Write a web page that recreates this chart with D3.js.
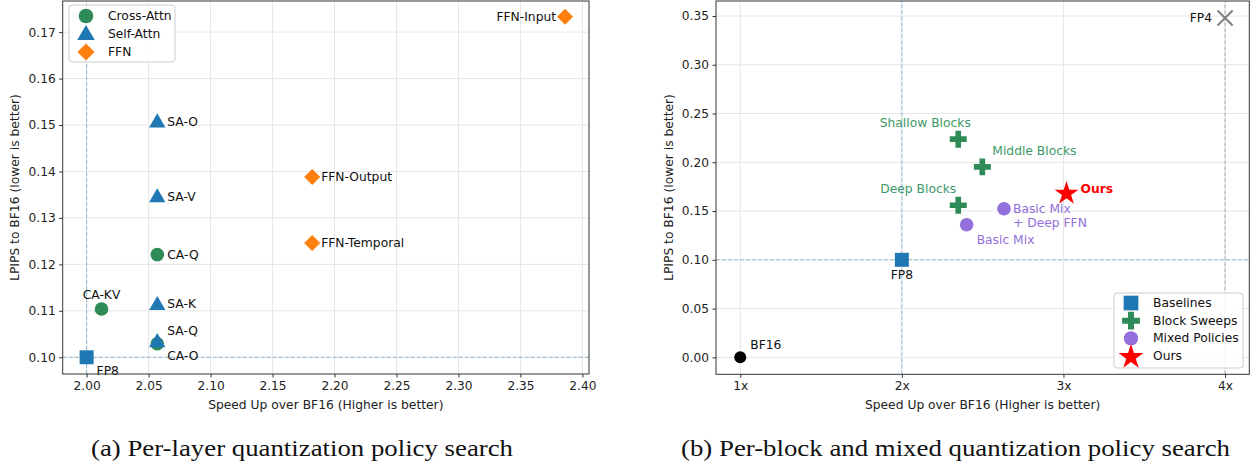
<!DOCTYPE html>
<html><head><meta charset="utf-8">
<script src="https://cdn.jsdelivr.net/npm/d3@7"></script>
<style>body{margin:0;background:#fff}svg{display:block;font-family:"DejaVu Sans",sans-serif}</style>
</head><body>
<svg id="c" width="1257" height="468"></svg>
<script>
// ---------- Data: panel (a) ----------
const layerNames  = ["CA-KV","CA-Q","CA-O","SA-O","SA-V","SA-K","SA-Q","FFN-Input","FFN-Output","FFN-Temporal"];
const layerGroups = ["Cross-Attn","Cross-Attn","Cross-Attn","Self-Attn","Self-Attn","Self-Attn","Self-Attn","FFN","FFN","FFN"];
const layerSpeed  = [2.012, 2.057, 2.057, 2.057, 2.057, 2.057, 2.057, 2.386, 2.182, 2.182];
const layerLpips  = [0.1104, 0.1221, 0.1029, 0.1507, 0.1346, 0.1114, 0.1034, 0.1733, 0.1388, 0.1246];
const fp8Point    = {name:"FP8", speed:2.00, lpips:0.100};
const aXTicks = [2.00,2.05,2.10,2.15,2.20,2.25,2.30,2.35,2.40];
const aYTicks = [0.10,0.11,0.12,0.13,0.14,0.15,0.16,0.17];
const aLegend = ["Cross-Attn","Self-Attn","FFN"];

// ---------- Data: panel (b) ----------
const policyNames  = ["BF16","FP8","FP4","Shallow Blocks","Middle Blocks","Deep Blocks","Basic Mix","Basic Mix\n+ Deep FFN","Ours"];
const policyGroups = ["BF16","Baselines","FP4","Block Sweeps","Block Sweeps","Block Sweeps","Mixed Policies","Mixed Policies","Ours"];
const policySpeed  = [1.0, 2.0, 4.0, 2.349, 2.498, 2.349, 2.401, 2.632, 3.019];
const policyLpips  = [0.0, 0.100, 0.348, 0.2237, 0.1953, 0.156, 0.1359, 0.1523, 0.169];
const bXTicks = [1,2,3,4];
const bXTickLabels = ["1x","2x","3x","4x"];
const bYTicks = [0.00,0.05,0.10,0.15,0.20,0.25,0.30,0.35];
const bLegend = ["Baselines","Block Sweeps","Mixed Policies","Ours"];

const captions = ["(a) Per-layer quantization policy search","(b) Per-block and mixed quantization policy search"];

// ---------- Styles ----------
const colors = {"Cross-Attn":"#2e8b57","Self-Attn":"#1f77b4","FFN":"#ff7f0e",
  "Baselines":"#1f77b4","Block Sweeps":"#2e8b57","Mixed Policies":"#9370db","Ours":"#ff0000","BF16":"#000000","FP4":"#808080"};
const shapes = {"Cross-Attn":"circle","Self-Attn":"triangle","FFN":"diamond",
  "Baselines":"square","Block Sweeps":"plus","Mixed Policies":"circle","Ours":"star","BF16":"circleS","FP4":"x"};

const svg = d3.select("#c");

function marker(g, shape, x, y, color, k=1){
  switch(shape){
    case "circle": g.append("circle").attr("cx",x).attr("cy",y).attr("r",6.8*Math.sqrt(k)).attr("fill",color); break;
    case "circleS": g.append("circle").attr("cx",x).attr("cy",y).attr("r",6).attr("fill",color); break;
    case "triangle": g.append("path").attr("d",d3.symbol(d3.symbolTriangle,115*k)()).attr("transform",`translate(${x},${y+1})`).attr("fill",color); break;
    case "diamond": g.append("path").attr("d",d3.symbol(d3.symbolSquare,128*k)()).attr("transform",`translate(${x},${y}) rotate(45)`).attr("fill",color); break;
    case "square": g.append("path").attr("d",d3.symbol(d3.symbolSquare,196*k)()).attr("transform",`translate(${x},${y})`).attr("fill",color); break;
    case "plus": g.append("path").attr("d",d3.symbol(d3.symbolCross,160*k)()).attr("transform",`translate(${x},${y})`).attr("fill",color); break;
    case "star": g.append("path").attr("d",d3.symbol(d3.symbolStar,175*k)()).attr("transform",`translate(${x},${y+1})`).attr("fill",color); break;
    case "x": g.append("path").attr("d",d3.symbol(d3.symbolX,150*k)()).attr("transform",`translate(${x},${y})`).attr("fill","none").attr("stroke",color).attr("stroke-width",2); break;
  }
}

function frame(x, y, xTicks, yTicks, xFmt, yFmt){
  const g = svg.append("g");
  const [x0,x1] = x.range(), [y0,y1] = y.range();
  g.selectAll(".gx").data(xTicks).join("line").attr("x1",d=>x(d)).attr("x2",d=>x(d)).attr("y1",y0).attr("y2",y1).attr("stroke","#e6e6e6").attr("stroke-width",1);
  g.selectAll(".gy").data(yTicks).join("line").attr("y1",d=>y(d)).attr("y2",d=>y(d)).attr("x1",x0).attr("x2",x1).attr("stroke","#e6e6e6").attr("stroke-width",1);
  const ax = svg.append("g").attr("transform",`translate(0,${y0})`).call(d3.axisBottom(x).tickValues(xTicks).tickFormat(xFmt).tickSize(3.5).tickPadding(3.5));
  const ay = svg.append("g").attr("transform",`translate(${x0},0)`).call(d3.axisLeft(y).tickValues(yTicks).tickFormat(yFmt).tickSize(3.5).tickPadding(3.5));
  [ax,ay].forEach(a=>{a.select(".domain").remove(); a.selectAll("text").attr("font-size",12.2).attr("fill","#222").attr("font-family","DejaVu Sans"); a.selectAll("line").attr("stroke","#333");});
  return g;
}
function border(x,y){
  const [x0,x1] = x.range(), [y0,y1] = y.range();
  svg.append("rect").attr("x",x0).attr("y",y1).attr("width",x1-x0).attr("height",y0-y1).attr("fill","none").attr("stroke","#333").attr("stroke-width",1);
}
function xlabel(y,cx){
  svg.append("text").attr("x",cx).attr("y",y.range()[0]+35).attr("text-anchor","middle").attr("font-size",12.3).attr("fill","#222").text("Speed Up over BF16 (Higher is better)");
}
function ylabel(px, cy){
  svg.append("text").attr("transform",`translate(${px},${cy}) rotate(-90)`).attr("text-anchor","middle").attr("font-size",12.3).attr("fill","#222").text("LPIPS to BF16 (lower is better)");
}
function dashed(g, x1, x2, y1, y2, color, op){
  g.append("line").attr("x1",x1).attr("x2",x2).attr("y1",y1).attr("y2",y2).attr("stroke",color).attr("stroke-opacity",op).attr("stroke-dasharray","4,2");
}

// ================= Panel (a) =================
const xa = d3.scaleLinear().domain([1.9807, 2.4053]).range([62.7, 589]);
const ya = d3.scaleLinear().domain([0.0964, 0.1767]).range([374, 1]);
frame(xa, ya, aXTicks, aYTicks, d3.format(".2f"), d3.format(".2f"));
const ga = svg.append("g");
dashed(ga, xa(fp8Point.speed), xa(fp8Point.speed), ya.range()[0], ya.range()[1], "#1f77b4", 0.45);
dashed(ga, xa.range()[0], xa.range()[1], ya(fp8Point.lpips), ya(fp8Point.lpips), "#1f77b4", 0.45);
const aLabelPos = {"CA-KV":[0,-10,"middle"],"CA-Q":[10,4,"start"],"CA-O":[10,16,"start"],"SA-O":[10,4,"start"],"SA-V":[10,4,"start"],
  "SA-K":[10,4,"start"],"SA-Q":[10,-6,"start"],"FFN-Input":[-9,4,"end"],"FFN-Output":[9,4,"start"],"FFN-Temporal":[9,4,"start"]};
layerNames.forEach((n,i)=>{
  marker(ga, shapes[layerGroups[i]], xa(layerSpeed[i]), ya(layerLpips[i]), colors[layerGroups[i]]);
});
layerNames.forEach((n,i)=>{
  const p = aLabelPos[n];
  ga.append("text").attr("x",xa(layerSpeed[i])+p[0]).attr("y",ya(layerLpips[i])+p[1]).attr("text-anchor",p[2]).attr("font-size",12.3).attr("fill","#111").text(n);
});
marker(ga, "square", xa(fp8Point.speed), ya(fp8Point.lpips), "#1f77b4");
ga.append("text").attr("x",xa(fp8Point.speed)+10).attr("y",ya(fp8Point.lpips)+18).attr("font-size",12.3).attr("fill","#111").text(fp8Point.name);
border(xa, ya);
const la = svg.append("g");
la.append("rect").attr("x",69).attr("y",5).attr("width",106).attr("height",57).attr("rx",3).attr("fill","#fff").attr("fill-opacity",0.85).attr("stroke","#ccc");
aLegend.forEach((k,i)=>{
  const yy = 16 + i*18;
  marker(la, shapes[k], 86, yy, colors[k], 1.15);
  la.append("text").attr("x",108).attr("y",yy+4).attr("font-size",12.3).attr("fill","#111").text(k);
});
xlabel(ya, 325.8);
ylabel(19, 187.5);

// ================= Panel (b) =================
const xb = d3.scaleLinear().domain([0.85, 4.15]).range([716, 1249.3]);
const yb = d3.scaleLinear().domain([-0.0174, 0.3654]).range([374.3, 1]);
frame(xb, yb, bXTicks, bYTicks, (d,i)=>bXTickLabels[i], d3.format(".2f"));
const gb = svg.append("g");
const fp8i = policyNames.indexOf("FP8"), fp4i = policyNames.indexOf("FP4");
dashed(gb, xb(policySpeed[fp8i]), xb(policySpeed[fp8i]), yb.range()[0], yb.range()[1], "#1f77b4", 0.45);
dashed(gb, xb.range()[0], xb.range()[1], yb(policyLpips[fp8i]), yb(policyLpips[fp8i]), "#1f77b4", 0.45);
dashed(gb, xb(policySpeed[fp4i]), xb(policySpeed[fp4i]), yb.range()[0], yb.range()[1], "#808080", 0.6);
const bLabelPos = {"BF16":[10,-8,"start","#111","normal"],"FP8":[0,19,"middle","#111","normal"],"FP4":[-13,4,"end","#111","normal"],
  "Shallow Blocks":[-33,-12,"middle","#3d9a68","normal"],"Middle Blocks":[10,-12,"start","#3d9a68","normal"],"Deep Blocks":[-40,-12,"middle","#3d9a68","normal"],
  "Basic Mix":[10,19,"start","#9370db","normal"],"Basic Mix\n+ Deep FFN":[9,4,"start","#9370db","normal"],"Ours":[14,0,"start","#ff0000","bold"]};
policyNames.forEach((n,i)=>{
  marker(gb, shapes[policyGroups[i]], xb(policySpeed[i]), yb(policyLpips[i]), colors[policyGroups[i]]);
});
policyNames.forEach((n,i)=>{
  const p = bLabelPos[n];
  const t = gb.append("text").attr("x",xb(policySpeed[i])+p[0]).attr("y",yb(policyLpips[i])+p[1]).attr("text-anchor",p[2]).attr("font-size",12.3).attr("fill",p[3]).attr("font-weight",p[4]);
  n.split("\n").forEach((s,j)=>t.append("tspan").attr("x",xb(policySpeed[i])+p[0]).attr("dy",j?14:0).text(s));
});
border(xb, yb);
const lb = svg.append("g");
lb.append("rect").attr("x",1114).attr("y",293).attr("width",129).attr("height",75).attr("rx",3).attr("fill","#fff").attr("fill-opacity",0.85).attr("stroke","#ccc");
bLegend.forEach((k,i)=>{
  const yy = 303 + i*17.7;
  marker(lb, shapes[k], 1131, yy, colors[k], 1.1);
  lb.append("text").attr("x",1153).attr("y",yy+4).attr("font-size",12.3).attr("fill","#111").text(k);
});
xlabel(yb, 982.6);
ylabel(673, 187.5);

// captions
[[captions[0],91,422],[captions[1],681,549]].forEach(([c,x0,w])=>{
  svg.append("text").attr("x",x0).attr("y",456).style("font-family","'Liberation Serif', serif").attr("font-size",24)
    .attr("textLength",w).attr("lengthAdjust","spacingAndGlyphs").attr("fill","#111").text(c);
});
</script>
</body></html>
